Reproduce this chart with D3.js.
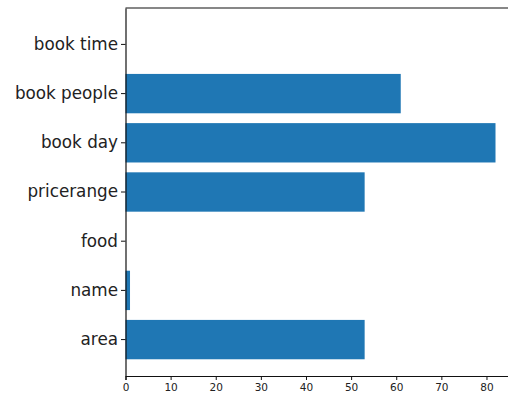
<!DOCTYPE html>
<html>
<head>
<meta charset="utf-8">
<script src="https://cdn.jsdelivr.net/npm/d3@7"></script>
<style>
  html, body { margin: 0; padding: 0; background: #fff; overflow: hidden; }
  svg { display: block; }
  text { font-family: "DejaVu Sans", sans-serif; fill: #222; }
</style>
</head>
<body>
<svg id="chart" width="508" height="394"></svg>
<script>
// Slot names, listed top to bottom as they appear on the y axis
const categories = ["book time", "book people", "book day", "pricerange", "food", "name", "area"];
// Count per slot, same order as categories
const counts = [0, 61, 82, 53, 0, 1, 53];
// x-axis tick values
const xTicks = [0, 10, 20, 30, 40, 50, 60, 70, 80];

const svg = d3.select("#chart");
const plot = { left: 125.5, top: 8, right: 514, bottom: 376 };

const xMax = d3.max(counts) * 1.05;
const x = d3.scaleLinear().domain([0, xMax]).range([plot.left, plot.right]);
const y = d3.scaleBand()
  .domain(categories)
  .range([plot.top, plot.bottom])
  .paddingInner(0.2)
  .paddingOuter(0.34);

const data = categories.map((c, i) => ({ cat: c, value: counts[i] }));

// bars
svg.append("g")
  .selectAll("rect")
  .data(data)
  .join("rect")
  .attr("x", x(0))
  .attr("y", d => y(d.cat))
  .attr("width", d => x(d.value) - x(0))
  .attr("height", y.bandwidth())
  .attr("fill", "#1f77b4");

// frame (top and right spines)
svg.append("path")
  .attr("d", `M${plot.left},${plot.top}H${plot.right}V${plot.bottom}`)
  .attr("fill", "none")
  .attr("stroke", "#111")
  .attr("stroke-width", 1.2);

// x axis
const gx = svg.append("g")
  .attr("transform", `translate(0,${plot.bottom})`)
  .call(d3.axisBottom(x).tickValues(xTicks).tickFormat(d3.format("d")).tickSize(4).tickPadding(4));
gx.select(".domain").attr("stroke", "#111").attr("stroke-width", 1.2);
gx.selectAll(".tick line").attr("stroke", "#111");
gx.selectAll("text").style("font-size", "10.5px").attr("fill", "#333");

// y axis
const gy = svg.append("g")
  .attr("transform", `translate(${plot.left},0)`)
  .call(d3.axisLeft(y).tickSize(4.5).tickPadding(3).tickSizeOuter(0));
gy.select(".domain").attr("stroke", "#111").attr("stroke-width", 1.2);
gy.selectAll(".tick line").attr("stroke", "#111");
gy.selectAll("text").style("font-size", "16.8px").attr("fill", "#2a2a2a");
</script>
</body>
</html>
